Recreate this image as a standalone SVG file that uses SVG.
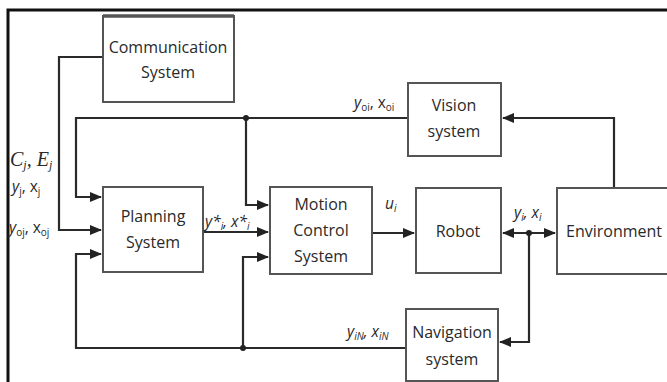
<svg xmlns="http://www.w3.org/2000/svg" width="667" height="382" viewBox="0 0 667 382">
<defs>
<marker id="ah" markerUnits="userSpaceOnUse" markerWidth="12" markerHeight="10" refX="11" refY="5" orient="auto-start-reverse">
<path d="M0,0 L12,5 L0,10 Z" fill="#222"/>
</marker>
</defs>
<style>
.box{fill:#fff;stroke:#555;stroke-width:2}
.t{font-family:"Open Sans","Liberation Sans",sans-serif;font-size:16px;fill:#2a2a2a;text-anchor:middle}
.c{fill:none;stroke:#2a2a2a;stroke-width:2.2}
.lb{font-family:"Open Sans","Liberation Sans",sans-serif;font-size:15.5px;fill:#2a2a2a}
.it{font-style:italic}
.sub{font-size:10px}
.ser{font-family:"Liberation Serif",serif;font-style:italic;font-size:20px;fill:#2a2a2a}
</style>
<rect width="667" height="382" fill="#fff"/>
<path d="M8,382 V10 H667" fill="none" stroke="#111" stroke-width="3"/>

<g id="connectors">
<path class="c" d="M103,57 H59 V230 H101" marker-end="url(#ah)"/>
<path class="c" d="M408,118 H76 V197 H101" marker-end="url(#ah)"/>
<path class="c" d="M246,118 V205 H268" marker-end="url(#ah)"/>
<path class="c" d="M203,232 H268" marker-end="url(#ah)"/>
<path class="c" d="M406,348 H76 V254 H101" marker-end="url(#ah)"/>
<path class="c" d="M243,348 V257 H268" marker-end="url(#ah)"/>
<path class="c" d="M372,233 H414" marker-end="url(#ah)"/>
<path class="c" d="M503,233 H555" marker-start="url(#ah)" marker-end="url(#ah)"/>
<path class="c" d="M529,233 V342 H500" marker-end="url(#ah)"/>
<path class="c" d="M614,188 V118 H503" marker-end="url(#ah)"/>
<circle cx="246" cy="118" r="3" fill="#222"/>
<circle cx="243" cy="348" r="3" fill="#222"/>
<circle cx="529" cy="233" r="3" fill="#222"/>
</g>

<g id="communication">
<rect class="box" x="103" y="16" width="131" height="86"/>
<line x1="103" y1="16" x2="234" y2="16" stroke="#555" stroke-width="3.5"/>
<text class="t" x="168" y="53">Communication</text>
<text class="t" x="168" y="78">System</text>
</g>
<g id="vision">
<rect class="box" x="408" y="83" width="93" height="73"/>
<text class="t" x="454" y="111">Vision</text>
<text class="t" x="454" y="137">system</text>
</g>
<g id="planning">
<rect class="box" x="103" y="187" width="100" height="85"/>
<text class="t" x="153" y="222">Planning</text>
<text class="t" x="153" y="248">System</text>
</g>
<g id="motion">
<rect class="box" x="270" y="187" width="102" height="87"/>
<text class="t" x="321" y="210">Motion</text>
<text class="t" x="321" y="236">Control</text>
<text class="t" x="321" y="262">System</text>
</g>
<g id="robot">
<rect class="box" x="416" y="188" width="85" height="85"/>
<text class="t" x="458" y="237">Robot</text>
</g>
<g id="environment">
<path class="box" d="M668,188 H557 V274 H668"/>
<text class="t" x="614" y="237">Environment</text>
</g>
<g id="navigation">
<rect class="box" x="406" y="309" width="92" height="72"/>
<text class="t" x="452" y="338">Navigation</text>
<text class="t" x="452" y="365">system</text>
</g>

<g id="labels">
<text class="ser" x="10" y="166">C<tspan font-size="12" dy="3">j</tspan><tspan dy="-3">, E</tspan><tspan font-size="12" dy="3">j</tspan></text>
<text class="lb" x="12" y="192"><tspan class="it">y</tspan><tspan class="sub" dy="3">j</tspan><tspan dy="-3">, x</tspan><tspan class="sub" dy="3">j</tspan></text>
<text class="lb" x="9" y="233"><tspan class="it">y</tspan><tspan class="sub" dy="3">oj</tspan><tspan dy="-3">, x</tspan><tspan class="sub" dy="3">oj</tspan></text>
<text class="lb it" x="205" y="227">y*<tspan class="sub" dy="3">i</tspan><tspan dy="-3">, x*</tspan><tspan class="sub" dy="3">i</tspan></text>
<text class="lb it" x="385" y="209">u<tspan class="sub" dy="3">i</tspan></text>
<text class="lb it" x="514" y="218">y<tspan class="sub" dy="3">i</tspan><tspan dy="-3">, x</tspan><tspan class="sub" dy="3">i</tspan></text>
<text class="lb" x="354" y="108"><tspan class="it">y</tspan><tspan class="sub" dy="3">oi</tspan><tspan dy="-3">, x</tspan><tspan class="sub" dy="3">oi</tspan></text>
<text class="lb it" x="347" y="337">y<tspan class="sub" dy="3">iN</tspan><tspan dy="-3">, x</tspan><tspan class="sub" dy="3">iN</tspan></text>
</g>
</svg>
